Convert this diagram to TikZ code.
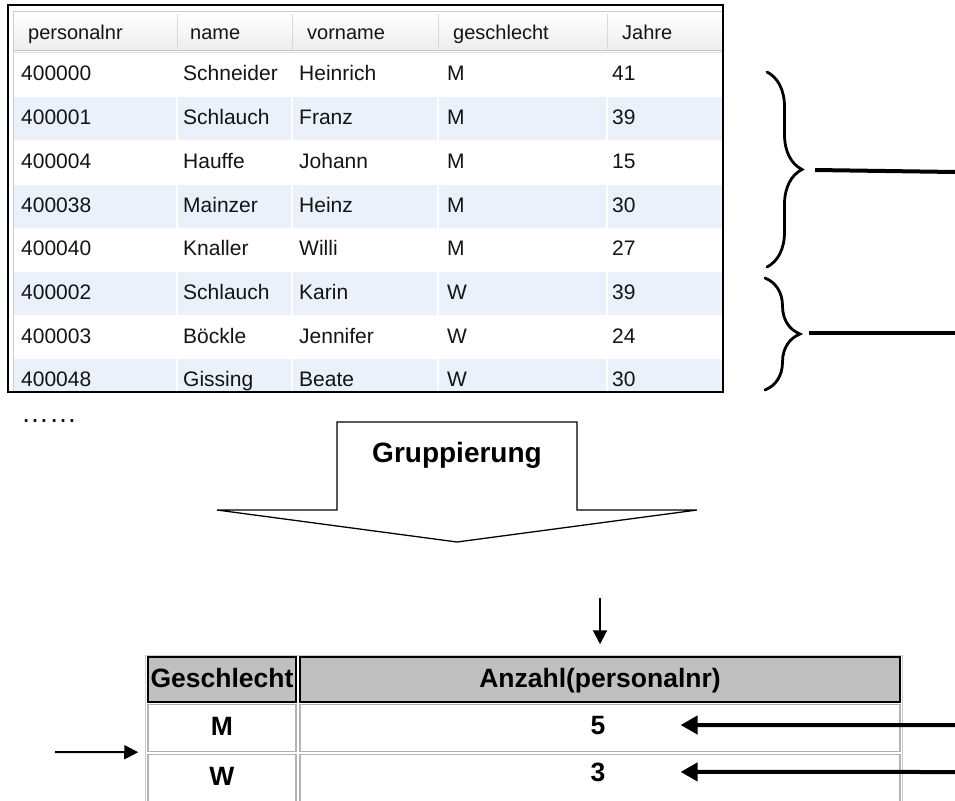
\documentclass[tikz,border=0pt]{standalone}
\usepackage{fontspec}
\setmainfont{Liberation Sans}
\usepackage{xcolor}
\usetikzlibrary{arrows.meta,decorations.pathreplacing}
\definecolor{rowblue}{HTML}{EAF1FB}
\definecolor{hdgray}{HTML}{C0C0C0}

\begin{document}
\begin{tikzpicture}[x=1pt,y=-1pt,
  td/.style={anchor=base west,inner sep=0pt,text=black!92,font=\fontsize{21}{25}\selectfont},
  th/.style={td,font=\fontsize{20}{24}\selectfont},
  bt/.style={inner sep=0pt,text height=20pt,text depth=5pt,font=\fontsize{26.5}{30}\selectfont\bfseries},
  hc/.style={bt,draw=black,line width=1.5pt,fill=hdgray},
  dc/.style={bt,draw=gray!60,line width=1.5pt},
  brc/.style={decorate,decoration={brace,amplitude=35pt},line width=2.8pt,line cap=round},
  bl/.style={line width=4pt},
  fat/.style={line width=4pt,-{Triangle[length=17pt,width=18pt]}},
  thn/.style={line width=2pt,-{Triangle[length=14pt,width=14pt]}}]
\clip (0,0) rectangle (955,800);
% source table
\begin{scope}
\clip (8,5) rectangle (723,392);
\shade[top color=white,bottom color=gray!14] (13,12) rectangle (722,50);
\foreach \i in {1,3,5,7} \fill[rowblue] (14,53.5+43.7*\i) rectangle (722,96.7+43.7*\i);
\foreach \cx in {177,292,438,607} {
  \draw[white,line width=2pt] (\cx,53) -- (\cx,392);
  \draw[gray!30,line width=1pt] (\cx,14) -- (\cx,49);}
\draw[gray!45,line width=1.2pt] (13,50.5) -- (722,50.5);
\draw[gray!25,line width=1pt] (13,52.5) -- (722,52.5);
\draw[gray!40,line width=1pt] (13,12) -- (722,12) (13,12) -- (13,392);
\node[th] (hPn) at (28,40) {personalnr};
\node[th] (hNm) at (190,40) {name};
\node[th] (hVn) at (307,40) {vorname};
\node[th] (hGs) at (453,40) {geschlecht};
\node[th] (hJr) at (622,40) {Jahre};
\foreach \pn/\nm/\vn/\gs/\jr [count=\i from 0] in {400000/Schneider/Heinrich/M/41,
  400001/Schlauch/Franz/M/39, 400004/Hauffe/Johann/M/15, 400038/Mainzer/Heinz/M/30,
  400040/Knaller/Willi/M/27, 400002/Schlauch/Karin/W/39, 400003/Böckle/Jennifer/W/24,
  400048/Gissing/Beate/W/30} {
  \node[td] (pn\i) at (21,81+43.7*\i) {\pn};
  \node[td] (nm\i) at (183,81+43.7*\i) {\nm};
  \node[td] (vn\i) at (299,81+43.7*\i) {\vn};
  \node[td] (gs\i) at (447,81+43.7*\i) {\gs};
  \node[td] (jr\i) at (612,81+43.7*\i) {\jr};}
\end{scope}
\draw[line width=2pt] (8,5) rectangle (723,392);
\node[td,font=\fontsize{28}{30}\selectfont] (dots) at (21,422) {……};
% braces
\draw[brc] (767,72) -- (767,267);
\draw[brc] (765,278) -- (765,390);
\coordinate (tM) at (815,170);
\coordinate (eM) at (955,172);
\coordinate (tW) at (809,333);
\coordinate (eW) at (955,333);
\draw[bl] (tM) -- (eM);
\draw[bl] (tW) -- (eW);
% block arrow
\draw[line width=1.3pt,fill=white] (337,422) -- (577,422) -- (577,510) -- (697,510)
  -- (457,542) -- (217,510) -- (337,510) -- cycle;
\node[inner sep=0pt,anchor=base,font=\fontsize{28}{32}\selectfont\bfseries] (grp) at (457,462) {Gruppierung};
% result table
\draw[gray!40,line width=1pt] (145,655) rectangle (902,805);
\node[hc,minimum width=148pt,minimum height=45pt] (gHd) at (222,679.5) {Geschlecht};
\node[hc,minimum width=600pt,minimum height=45pt] (aHd) at (600,679.5) {Anzahl(personalnr)};
\node[dc,minimum width=148pt,minimum height=47pt] (cM) at (222,728) {M};
\node[dc,minimum width=600pt,minimum height=47pt] (nM) at (600,728) {};
\node[dc,minimum width=148pt,minimum height=47pt] (cW) at (222,778) {W};
\node[dc,minimum width=600pt,minimum height=47pt] (nW) at (600,778) {};
\node[bt,anchor=base,text height=,text depth=] (v5) at (598,734) {5};
\node[bt,anchor=base,text height=,text depth=] (v3) at (598,781) {3};
\coordinate (dA) at (600,598);
\coordinate (lA) at (55,752);
\coordinate (rM) at (955,725);
\coordinate (rW) at (955,772);
\draw[thn,shorten >=12pt] (dA) -- (aHd.north);
\draw[thn,shorten >=9pt] (lA) -- (cM.south west);
\draw[fat,shorten >=75pt] (rM) -- (v5.east);
\draw[fat,shorten >=75pt] (rW) -- (v3.east);
\end{tikzpicture}
\end{document}
